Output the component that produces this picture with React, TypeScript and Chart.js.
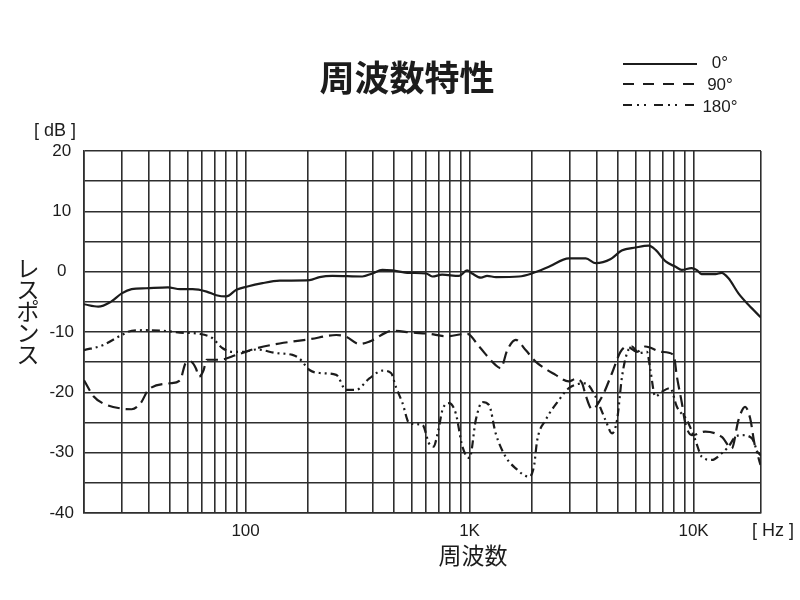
import React, { useEffect, useRef } from 'react';
import { Chart, registerables } from 'chart.js';

Chart.register(...registerables);

// 0° response
const freq0 = [19, 22, 25, 28, 31, 36, 45, 51, 58, 67, 74, 82, 91, 101, 119, 142, 193, 214, 244, 332, 368, 408, 452, 538, 640, 681, 754, 898, 975, 1026, 1125, 1197, 1312, 1662, 1897, 2259, 2774, 3303, 3660, 4268, 4777, 5516, 6303, 6771, 7505, 8317, 8842, 9795, 10310, 10855, 12530, 13330, 14320, 15860, 17580, 20000];
const db0 = [-5.4, -5.8, -5.0, -3.6, -2.9, -2.75, -2.6, -2.9, -2.9, -3.3, -3.9, -4.1, -3.0, -2.5, -1.9, -1.5, -1.4, -0.9, -0.7, -0.8, -0.3, 0.3, 0.2, -0.2, -0.3, -0.8, -0.5, -0.7, 0.2, -0.3, -1.0, -0.7, -0.9, -0.8, -0.3, 0.8, 2.2, 2.2, 1.4, 2.1, 3.5, 4.0, 4.3, 3.6, 1.7, 0.8, 0.3, 0.6, 0.3, -0.4, -0.4, -0.2, -1.1, -3.6, -5.5, -7.6];

// 90° response
const freq90 = [19, 21, 23, 28, 31, 34, 37, 46, 51, 54, 57, 60, 62, 65, 67, 77, 91, 112, 142, 193, 254, 281, 322, 357, 453, 555, 660, 783, 978, 1102, 1308, 1377, 1474, 1607, 1780, 1972, 2421, 2774, 2972, 3180, 3293, 3524, 3905, 4326, 4716, 5047, 5590, 6094, 7225, 8144, 8425, 8870, 9185, 9826, 11270, 13370, 14810, 15860, 16990, 17890, 18830, 20000];
const db90 = [-18, -20.7, -21.8, -22.7, -22.8, -21.8, -19.5, -18.5, -18, -15.2, -14.9, -16, -17.4, -16.3, -14.6, -14.6, -13.8, -12.7, -11.9, -11.2, -10.5, -10.8, -12, -11.6, -9.8, -10.1, -10.3, -10.7, -10.3, -12.4, -15.5, -16.0, -13.0, -11.3, -13.0, -14.9, -17.1, -18.2, -17.8, -18.5, -20.4, -22.8, -20.7, -16.8, -13.3, -12.4, -13.3, -12.4, -13.3, -13.8, -17.4, -21.8, -25.1, -27.1, -26.5, -27.4, -29.3, -24.6, -22.4, -24.3, -29, -30.5];

// 180° response
const freq180 = [19, 23, 28, 31, 36, 43, 51, 62, 71, 79, 88, 97, 112, 137, 162, 174, 193, 214, 254, 281, 311, 357, 409, 446, 469, 502, 538, 616, 660, 690, 725, 757, 810, 868, 929, 1000, 1066, 1140, 1222, 1308, 1450, 1607, 1841, 1938, 2005, 2185, 2504, 2774, 3293, 3648, 4044, 4326, 4553, 4793, 5047, 5310, 5690, 6196, 6412, 6750, 7225, 7870, 8425, 9333, 10180, 10890, 12060, 13370, 14320, 15340, 16410, 18190, 20000];
const db180 = [-13, -12.2, -10.5, -9.8, -9.7, -9.8, -10.1, -10.3, -11.0, -12.7, -13.3, -13.3, -12.9, -13.5, -13.8, -14.4, -16.3, -16.8, -17.1, -19.6, -19.6, -17.7, -16.4, -16.8, -19.1, -21.8, -25.1, -25.4, -28.5, -29, -26.3, -22.9, -21.8, -23.5, -29, -30.9, -24.6, -21.6, -22.1, -26.8, -30.7, -32.6, -34, -32.3, -27.9, -24.6, -21.3, -19.3, -18.5, -20.7, -24.6, -26.8, -24.6, -17.4, -13.5, -12.4, -13.5, -13.3, -16.3, -20.7, -19.9, -19.3, -22.4, -24.6, -27.9, -30.7, -31.2, -30.1, -29, -27.4, -27.1, -27.6, -32.3];

// vertical grid positions (graph paper) and labelled ones
const gridFreqs = [19, 28, 37, 46, 55, 64, 73, 82, 91, 100, 190, 280, 370, 460, 550, 640, 730, 820, 910, 1000, 1900, 2800, 3700, 4600, 5500, 6400, 7300, 8200, 9100, 10000, 20000];
const xLabelValues = [100, 1000, 10000];
const xLabelTexts = ['100', '1K', '10K'];

const seriesNames = ['0°', '90°', '180°'];
const TITLE = '周波数特性';
const Y_TITLE = 'レスポンス';
const X_TITLE = '周波数';

const INK = '#1c1c1c';
const GRID = '#2e2e2e';
const DASH90 = [12, 6];
const DASH180 = [8, 4, 2, 4, 2, 4];

const LATIN = '"Liberation Sans", Arial, sans-serif';
const CJK = '"Noto Sans CJK JP", "Noto Sans CJK SC", sans-serif';

const toPoints = (f: number[], d: number[]) => f.map((x, i) => ({ x, y: d[i] }));

const extrasPlugin = {
  id: 'extras',
  afterDraw(chart: any) {
    const ctx = chart.ctx as CanvasRenderingContext2D;
    ctx.save();
    ctx.fillStyle = INK;
    ctx.strokeStyle = INK;
    ctx.textAlign = 'center';
    ctx.textBaseline = 'middle';

    // title
    ctx.font = `bold 35px ${CJK}`;
    ctx.fillText(TITLE, 407, 78);

    // legend
    const legendY = [64, 84, 105];
    const dashes = [[], [11, 9], [9, 5, 2, 5, 2, 8]];
    ctx.lineWidth = 2.2;
    for (let i = 0; i < 3; i++) {
      ctx.setLineDash(dashes[i]);
      ctx.beginPath();
      ctx.moveTo(623, legendY[i]);
      ctx.lineTo(697, legendY[i]);
      ctx.stroke();
    }
    ctx.setLineDash([]);
    ctx.font = `17px ${LATIN}`;
    const textY = [63, 85, 107];
    for (let i = 0; i < 3; i++) ctx.fillText(seriesNames[i], 720, textY[i]);

    // units
    ctx.font = `18px ${LATIN}`;
    ctx.fillText('[ dB ]', 55, 131);
    ctx.fillText('[ Hz ]', 773, 531);

    // y title stacked vertically
    ctx.font = `23px ${CJK}`;
    const chars = Array.from(Y_TITLE);
    chars.forEach((c, i) => ctx.fillText(c, 28, 268 + i * 21.5));

    // x title
    ctx.font = `23px ${CJK}`;
    ctx.fillText(X_TITLE, 473, 555);
    ctx.restore();
  },
};

export default function App() {
  const ref = useRef<HTMLCanvasElement | null>(null);

  useEffect(() => {
    if (!ref.current) return;
    const common = {
      borderColor: INK,
      borderWidth: 2.2,
      pointRadius: 0,
      fill: false,
      cubicInterpolationMode: 'monotone' as const,
    };
    const chart = new Chart(ref.current, {
      type: 'line',
      data: {
        datasets: [
          { ...common, label: seriesNames[0], data: toPoints(freq0, db0) },
          { ...common, label: seriesNames[1], data: toPoints(freq90, db90), borderDash: DASH90 },
          { ...common, label: seriesNames[2], data: toPoints(freq180, db180), borderDash: DASH180 },
        ],
      },
      options: {
        responsive: false,
        animation: false,
        layout: { padding: { top: 151, right: 39, left: 0, bottom: 0 } },
        plugins: { legend: { display: false }, title: { display: false }, tooltip: { enabled: false } },
        scales: {
          x: {
            type: 'logarithmic',
            min: 19,
            max: 20000,
            afterBuildTicks: (scale: any) => {
              scale.ticks = gridFreqs.map((v) => ({ value: v }));
            },
            afterFit: (scale: any) => {
              scale.height = 87;
            },
            ticks: {
              autoSkip: false,
              maxRotation: 0,
              minRotation: 0,
              padding: 8,
              color: INK,
              font: { family: LATIN, size: 17 },
              callback: (value: any) => {
                const idx = xLabelValues.indexOf(Number(value));
                return idx >= 0 ? xLabelTexts[idx] : '';
              },
            },
            grid: { color: GRID, lineWidth: 1.6, drawTicks: false },
            border: { display: true, color: GRID, width: 1.6 },
          },
          y: {
            type: 'linear',
            min: -40,
            max: 20,
            afterFit: (scale: any) => {
              scale.width = 84;
            },
            ticks: {
              stepSize: 5,
              padding: 10,
              crossAlign: 'center',
              color: INK,
              font: { family: LATIN, size: 17 },
              callback: (value: any) => (Number(value) % 10 === 0 ? String(value) : ''),
            },
            grid: { color: GRID, lineWidth: 1.6, drawTicks: false },
            border: { display: true, color: GRID, width: 1.6 },
          },
        },
      } as any,
      plugins: [extrasPlugin],
    });
    return () => chart.destroy();
  }, []);

  return (
    <div style={{ position: 'absolute', left: 0, top: 0, width: 800, height: 600, background: '#fff' }}>
      <canvas ref={ref} width={800} height={600} />
    </div>
  );
}
